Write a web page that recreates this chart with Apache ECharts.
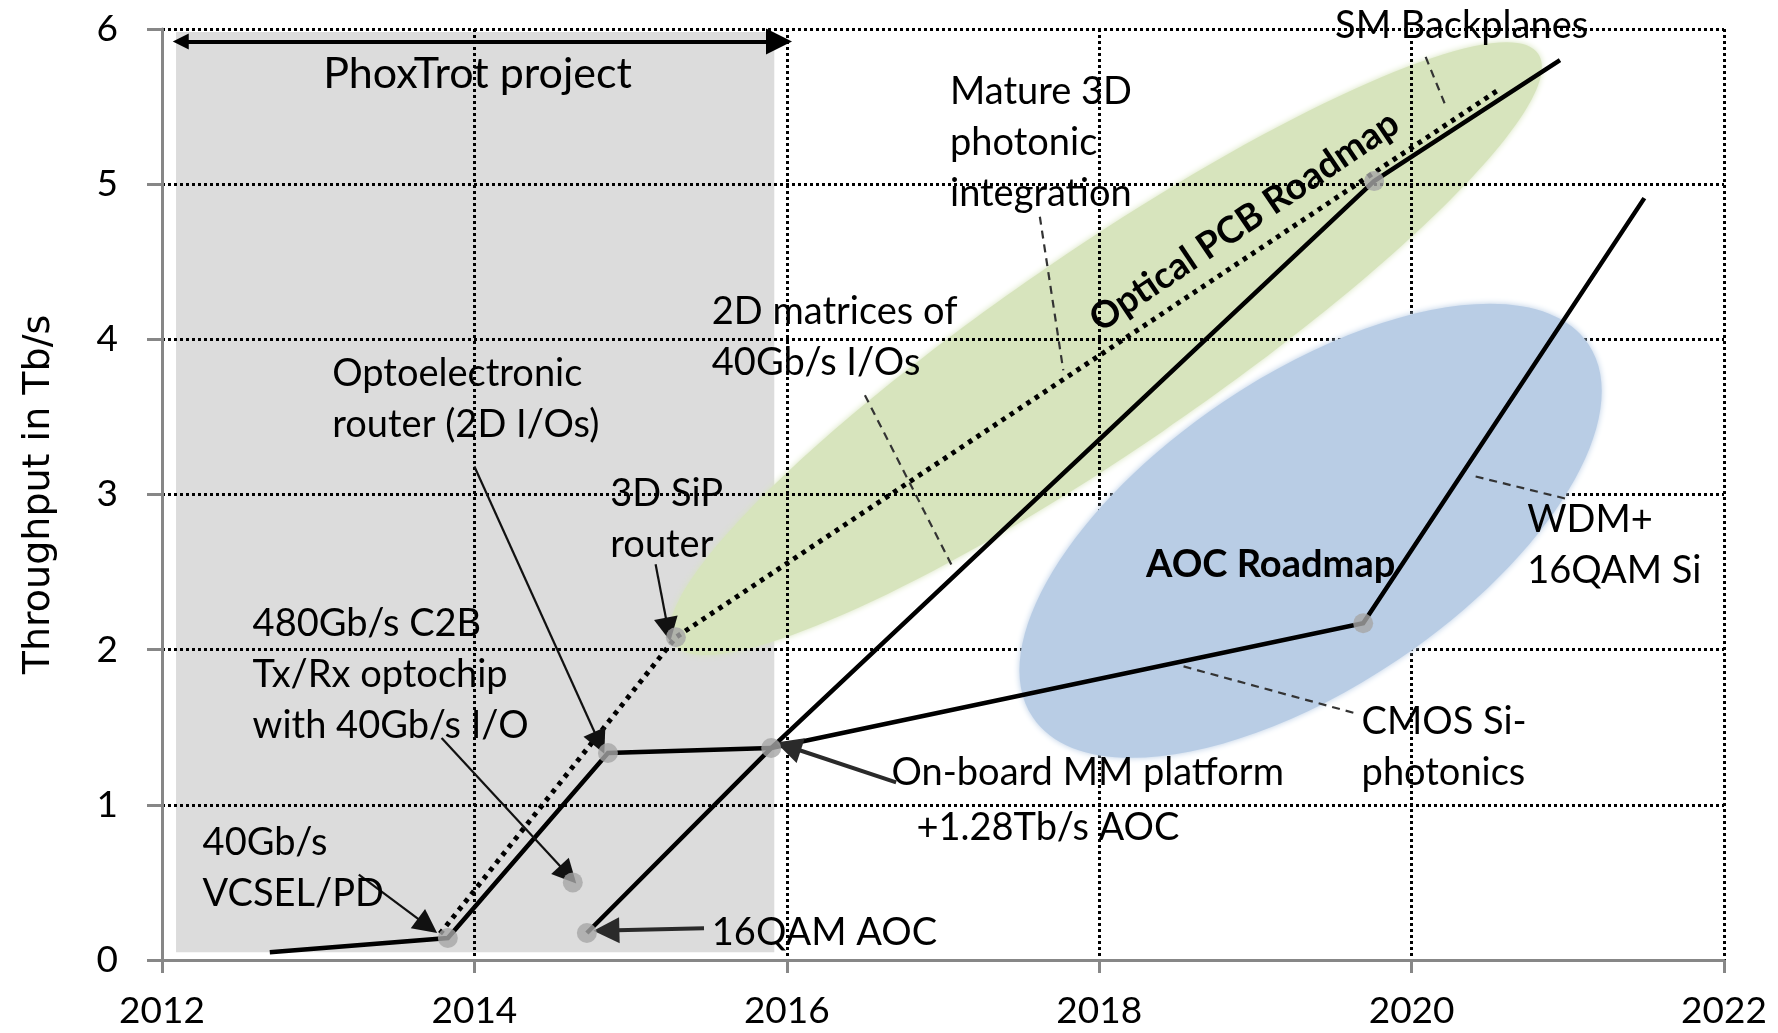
<!DOCTYPE html>
<html>
<head>
<meta charset="utf-8">
<script src="https://cdn.jsdelivr.net/npm/echarts@6/dist/echarts.min.js"></script>
<style>
html,body{margin:0;padding:0;background:#fff;}
#chart{width:1778px;height:1033px;}
</style>
</head>
<body>
<div id="chart"></div>
<script>
// ---------- data ----------
const yearTicks = [2012, 2014, 2016, 2018, 2020, 2022];
const throughputTicks = [0, 1, 2, 3, 4, 5, 6];

// solid black roadmap lines [year, Tb/s]
const solidEarly = [[2012.69, 0.05], [2013.83, 0.142], [2014.855, 1.334], [2015.90, 1.366]];
const solidOptical = [[2014.72, 0.174], [2015.90, 1.366], [2019.76, 5.02], [2020.95, 5.80]];
const solidAOC = [[2015.90, 1.366], [2019.69, 2.17], [2021.49, 4.91]];
// dotted optical PCB roadmap
const dottedPCB = [[2013.78, 0.17], [2015.29, 2.08], [2020.56, 5.61]];
// grey milestone dots
const milestones = [[2013.83, 0.142], [2014.855, 1.334], [2015.90, 1.366], [2014.72, 0.174],
                    [2014.63, 0.50], [2015.29, 2.08], [2019.76, 5.02], [2019.69, 2.17]];

// PhoxTrot project span (grey area corners) and its double arrow
const projectArea = [[2012.09, 0.05], [2015.92, 5.98]];
const projectArrow = [[2012.12, 5.92], [2015.95, 5.92]];

// roadmap ellipses: [center, end of major semi-axis, end of minor semi-axis]
const pcbEllipse = [[2018.044, 3.94], [2020.81, 5.84], [2017.68, 4.473]];
const aocEllipse = [[2019.354, 2.766], [2021.132, 3.969], [2018.798, 3.599]];

// pointer arrows [from, to]
const thinArrows = [
  [[2013.26, 0.55], [2013.70, 0.22]],
  [[2013.79, 1.43], [2014.60, 0.55]],
  [[2014.00, 3.18], [2014.80, 1.40]],
  [[2015.16, 2.55], [2015.24, 2.13]]
];
const thickArrows = [
  [[2015.47, 0.205], [2014.845, 0.19]],
  [[2016.70, 1.145], [2016.01, 1.376]]
];
// dashed leader lines [from, to]
const leaders = [
  [[2017.62, 4.79], [2017.77, 3.80]],
  [[2016.50, 3.64], [2017.06, 2.536]],
  [[2020.09, 5.82], [2020.22, 5.50]],
  [[2018.54, 1.892], [2019.64, 1.59]],
  [[2020.41, 3.116], [2021.00, 2.97]]
];

// text labels [x, y, text]  (left edge, vertical middle)
const notes = [
  [2017.045, 5.265, 'Mature 3D\nphotonic\nintegration'],
  [2019.51, 6.02, 'SM Backplanes'],
  [2015.52, 4.015, '2D matrices of\n40Gb/s I/Os'],
  [2013.09, 3.615, 'Optoelectronic\nrouter (2D I/Os)'],
  [2014.87, 2.84, '3D SiP\nrouter'],
  [2012.58, 1.838, '480Gb/s C2B\nTx/Rx optochip\nwith 40Gb/s I/O'],
  [2012.26, 0.592, '40Gb/s\nVCSEL/PD'],
  [2015.52, 0.174, '16QAM AOC'],
  [2016.67, 1.205, 'On-board MM platform'],
  [2016.83, 0.85, '+1.28Tb/s AOC'],
  [2019.68, 1.371, 'CMOS Si-\nphotonics'],
  [2020.74, 2.676, 'WDM+\n16QAM Si']
];
const boldNotes = [[2018.30, 2.547, 'AOC Roadmap']];
const slantedNotes = [[2018.93, 4.76, 'Optical PCB Roadmap']];
const projectTitle = [[2014.02, 5.71, 'PhoxTrot project']];

// ---------- chart ----------
const FONT = 'Lato, "Noto Sans", sans-serif';
const chart = echarts.init(document.getElementById('chart'), null, {renderer: 'canvas'});

function ellipseSeries(e, color, z) {
  return {
    type: 'custom', coordinateSystem: 'cartesian2d', z: z, silent: true,
    data: [e[0]],
    renderItem: function (params, api) {
      const c = api.coord(e[0]), m = api.coord(e[1]), n = api.coord(e[2]);
      const rx = Math.hypot(m[0] - c[0], m[1] - c[1]);
      const ry = Math.hypot(n[0] - c[0], n[1] - c[1]);
      const rot = Math.atan2(c[1] - m[1], m[0] - c[0]);
      return {type: 'ellipse', x: c[0], y: c[1], rotation: rot,
        shape: {cx: 0, cy: 0, rx: rx, ry: ry},
        style: {fill: color, shadowBlur: 6, shadowColor: color}};
    }
  };
}
function textSeries(arr, font, rotDeg, align) {
  return {
    type: 'custom', coordinateSystem: 'cartesian2d', z: 10, silent: true,
    data: arr.map(function (a) { return [a[0], a[1]]; }),
    renderItem: function (params, api) {
      const a = arr[params.dataIndex];
      const p = api.coord([a[0], a[1]]);
      return {type: 'text', x: p[0], y: p[1], rotation: (rotDeg || 0) * Math.PI / 180,
        style: {text: a[2], font: font, fill: '#000', align: align || 'left',
          verticalAlign: 'middle', lineHeight: 51}};
    }
  };
}
function lineSeries(d, width, type) {
  return {type: 'line', data: d, symbol: 'none', z: 4, silent: true,
    lineStyle: {color: '#000', width: width, type: type || 'solid', cap: 'butt', join: 'miter'}};
}

const gridDots = {color: '#000', width: 3, type: [3, 3]};

const option = {
  animation: false,
  backgroundColor: '#fff',
  grid: {left: 162, right: 54, top: 29, bottom: 73, containLabel: false},
  xAxis: {
    type: 'value', min: yearTicks[0], max: yearTicks[yearTicks.length - 1], interval: 2,
    axisLine: {lineStyle: {color: '#878787', width: 3}},
    axisTick: {show: true, inside: false, length: 13, lineStyle: {color: '#878787', width: 3}},
    axisLabel: {formatter: function (v) { return String(v); }, color: '#000',
      fontFamily: FONT, fontSize: 37, margin: 33},
    splitLine: {show: true, showMinLine: false, lineStyle: gridDots}
  },
  yAxis: {
    type: 'value', min: throughputTicks[0], max: throughputTicks[throughputTicks.length - 1], interval: 1,
    name: 'Throughput in Tb/s', nameLocation: 'middle', nameGap: 104, nameRotate: 90,
    nameTextStyle: {fontFamily: '"DejaVu Sans", sans-serif', fontSize: 38, color: '#000'},
    axisLine: {show: true, lineStyle: {color: '#878787', width: 3}},
    axisTick: {show: true, inside: false, length: 15, lineStyle: {color: '#878787', width: 3}},
    axisLabel: {color: '#000', fontFamily: FONT, fontSize: 37, margin: 44},
    splitLine: {show: true, showMinLine: false, lineStyle: gridDots}
  },
  series: [
    // grey project area (under grid lines)
    {
      type: 'custom', coordinateSystem: 'cartesian2d', z: -2, silent: true,
      data: [projectArea[0]],
      renderItem: function (params, api) {
        const a = api.coord(projectArea[0]), b = api.coord(projectArea[1]);
        return {type: 'rect', shape: {x: a[0], y: b[1], width: b[0] - a[0], height: a[1] - b[1]},
          style: {fill: '#dcdcdc'}};
      }
    },
    ellipseSeries(pcbEllipse, '#d7e4bd', -1),
    ellipseSeries(aocEllipse, '#b9cde5', 1),
    lineSeries(dottedPCB, 5, [4.5, 5.5]),
    lineSeries(solidEarly, 4.5),
    lineSeries(solidOptical, 4.5),
    lineSeries(solidAOC, 4.5),
    {
      type: 'lines', coordinateSystem: 'cartesian2d', z: 5, silent: true,
      symbol: ['none', 'triangle'], symbolSize: [16, 24],
      lineStyle: {color: '#111', width: 2.2, opacity: 1},
      data: thinArrows.map(function (c) { return {coords: c}; })
    },
    {
      type: 'lines', coordinateSystem: 'cartesian2d', z: 5, silent: true,
      symbol: ['none', 'triangle'], symbolSize: [20, 26],
      lineStyle: {color: '#2a2a2a', width: 4, opacity: 1},
      data: thickArrows.map(function (c) { return {coords: c}; })
    },
    {
      type: 'lines', coordinateSystem: 'cartesian2d', z: 5, silent: true,
      symbol: ['triangle', 'triangle'], symbolSize: [16, 26],
      lineStyle: {color: '#000', width: 4, opacity: 1},
      data: [{coords: projectArrow}]
    },
    {
      type: 'lines', coordinateSystem: 'cartesian2d', z: 5, silent: true,
      symbol: ['none', 'none'],
      lineStyle: {color: '#333', width: 2.2, type: [8, 6], opacity: 1},
      data: leaders.map(function (c) { return {coords: c}; })
    },
    {
      type: 'scatter', data: milestones, symbol: 'circle', symbolSize: 20, z: 6, silent: true,
      itemStyle: {color: '#a6a6a6'}
    },
    textSeries(notes, '38px ' + FONT),
    textSeries(boldNotes, 'bold 38px ' + FONT),
    textSeries(slantedNotes, 'bold 37px ' + FONT, 34, 'center'),
    textSeries(projectTitle, '43px ' + FONT, 0, 'center')
  ]
};
chart.setOption(option);
</script>
</body>
</html>
